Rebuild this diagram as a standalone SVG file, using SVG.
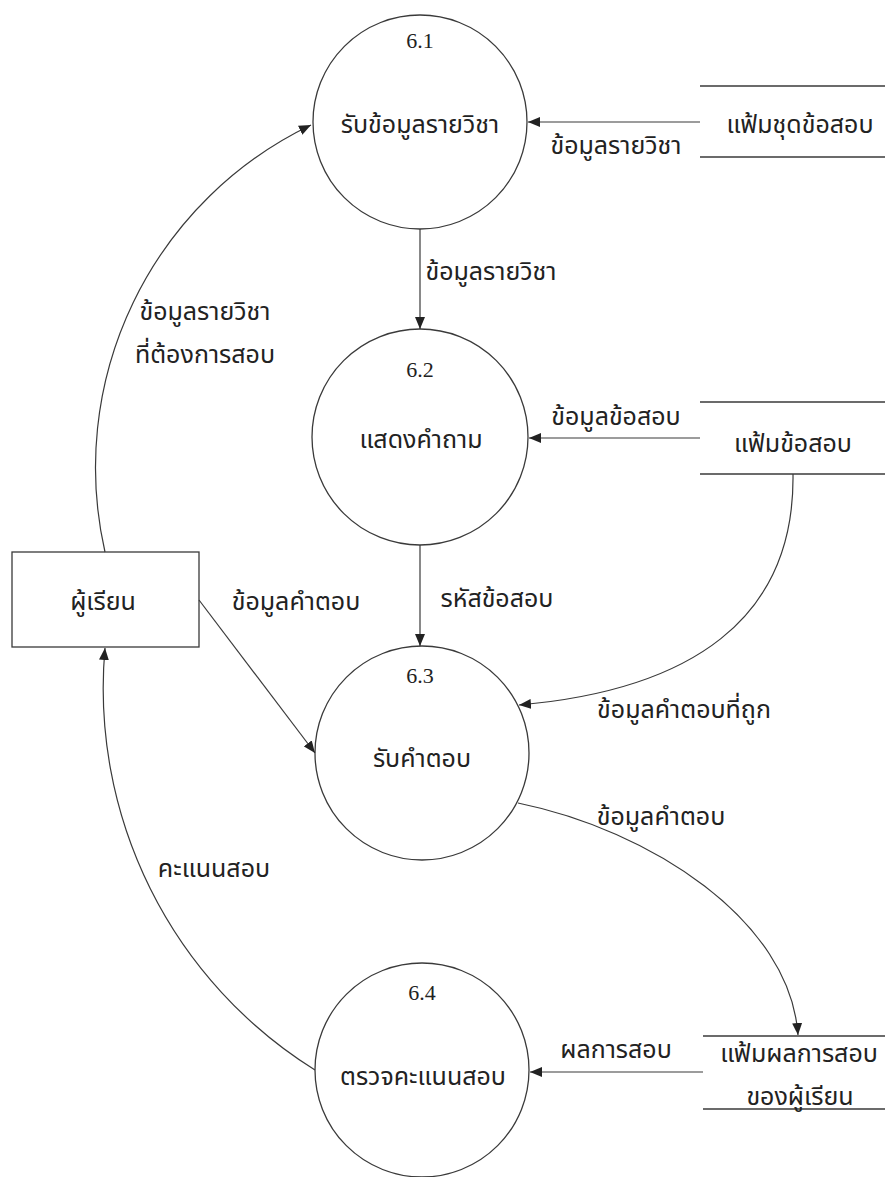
<svg xmlns="http://www.w3.org/2000/svg" width="885" height="1177" viewBox="0 0 885 1177">
<style>
.shape{fill:none;stroke:#3a3a3a;stroke-width:1.3}
.flow{fill:none;stroke:#3a3a3a;stroke-width:1.2}
.num{font-family:"Liberation Serif","Times New Roman",serif;font-size:22px;fill:#222;text-anchor:middle}
.th{font-family:"Noto Sans Thai","Noto Serif Thai","Liberation Serif","DejaVu Sans",sans-serif;font-size:25px;fill:#222;text-anchor:middle}
</style>
<defs>
<marker id="arr" viewBox="0 0 12 10" refX="12" refY="5" markerWidth="12" markerHeight="10" markerUnits="userSpaceOnUse" orient="auto">
<path d="M0,0 L12,5 L0,10 z" fill="#222"/>
</marker>
</defs>
<rect width="885" height="1177" fill="#fff"/>

<g id="p61">
<circle class="shape" cx="420" cy="122" r="107"/>
<text class="num" x="420" y="48">6.1</text>
<text class="th" x="420" y="133">รับข้อมูลรายวิชา</text>
</g>
<g id="p62">
<circle class="shape" cx="420" cy="437" r="108"/>
<text class="num" x="420" y="377">6.2</text>
<text class="th" x="421" y="448">แสดงคำถาม</text>
</g>
<g id="p63">
<circle class="shape" cx="422" cy="753" r="107"/>
<text class="num" x="420" y="683">6.3</text>
<text class="th" x="422" y="767">รับคำตอบ</text>
</g>
<g id="p64">
<circle class="shape" cx="422" cy="1070" r="107"/>
<text class="num" x="422" y="1000">6.4</text>
<text class="th" x="423" y="1085">ตรวจคะแนนสอบ</text>
</g>
<g id="learner">
<rect class="shape" x="12" y="552" width="187" height="95"/>
<text class="th" x="103" y="610">ผู้เรียน</text>
</g>
<g id="ds1">
<line class="shape" x1="700" y1="86" x2="885" y2="86"/>
<line class="shape" x1="700" y1="157" x2="885" y2="157"/>
<text class="th" x="800" y="133">แฟ้มชุดข้อสอบ</text>
</g>
<g id="ds2">
<line class="shape" x1="700" y1="402" x2="885" y2="402"/>
<line class="shape" x1="700" y1="474" x2="885" y2="474"/>
<text class="th" x="793" y="452">แฟ้มข้อสอบ</text>
</g>
<g id="ds3">
<line class="shape" x1="703" y1="1036" x2="885" y2="1036"/>
<line class="shape" x1="703" y1="1109" x2="885" y2="1109"/>
<text class="th" x="799" y="1062">แฟ้มผลการสอบ</text>
<text class="th" x="800" y="1105">ของผู้เรียน</text>
</g>

<g id="connectors">
<path class="flow" d="M700,122 L528,122" marker-end="url(#arr)"/>
<text class="th" x="616" y="154">ข้อมูลรายวิชา</text>
<path class="flow" d="M420,229 L420,329" marker-end="url(#arr)"/>
<text class="th" x="491" y="280">ข้อมูลรายวิชา</text>
<path class="flow" d="M700,438 L529,438" marker-end="url(#arr)"/>
<text class="th" x="616" y="425">ข้อมูลข้อสอบ</text>
<path class="flow" d="M420,545 L420,646" marker-end="url(#arr)"/>
<text class="th" x="497" y="607">รหัสข้อสอบ</text>
<path class="flow" d="M105,552 A380,380 0 0 1 311,125" marker-end="url(#arr)"/>
<text class="th" x="205" y="320">ข้อมูลรายวิชา</text>
<text class="th" x="205" y="363">ที่ต้องการสอบ</text>
<path class="flow" d="M199,600 L315,753" marker-end="url(#arr)"/>
<text class="th" x="296" y="610">ข้อมูลคำตอบ</text>
<path class="flow" d="M793,474 C795,620 690,690 519,705" marker-end="url(#arr)"/>
<text class="th" x="684" y="718">ข้อมูลคำตอบที่ถูก</text>
<path class="flow" d="M518,803 C650,830 790,920 798,1035" marker-end="url(#arr)"/>
<text class="th" x="661" y="825">ข้อมูลคำตอบ</text>
<path class="flow" d="M703,1072 L530,1072" marker-end="url(#arr)"/>
<text class="th" x="616" y="1058">ผลการสอบ</text>
<path class="flow" d="M315,1070 A450,450 0 0 1 105,648" marker-end="url(#arr)"/>
<text class="th" x="214" y="877">คะแนนสอบ</text>
</g>
</svg>
